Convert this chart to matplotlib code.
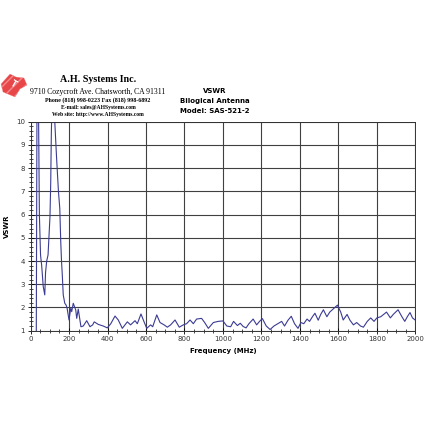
import matplotlib
matplotlib.use("Agg")
import matplotlib.pyplot as plt
from matplotlib.patches import Polygon
from matplotlib.ticker import MultipleLocator

freq_mhz = [30, 35, 40, 42, 46, 52, 58, 66, 74, 78, 84, 91, 96, 101, 105, 108, 114,
            122, 126, 135, 145, 152, 157, 161, 165, 170, 178, 185, 190, 200, 209, 214,
            222, 235, 240, 248, 254, 262, 274, 292, 309, 323, 331, 352, 378, 399, 417,
            439, 456, 477, 503, 520, 543, 555, 574, 590, 604, 624, 635, 656, 673, 694,
            711, 728, 751, 773, 794, 811, 829, 846, 863, 889, 905, 924, 950, 975,
            1000, 1020, 1040, 1055, 1075, 1090, 1105, 1120, 1135, 1157, 1175, 1190,
            1205, 1225, 1245, 1265, 1285, 1305, 1320, 1338, 1355, 1372, 1390, 1405,
            1420, 1437, 1450, 1465, 1478, 1495, 1508, 1522, 1540, 1555, 1575, 1595,
            1612, 1625, 1645, 1660, 1678, 1695, 1715, 1730, 1750, 1768, 1785, 1800,
            1820, 1850, 1870, 1885, 1910, 1930, 1945, 1958, 1972, 1985, 2000]
vswr = [1.0, 15.0, 12.0, 10.0, 6.0, 4.26, 3.8, 2.9, 2.54, 3.5, 4.0, 4.26, 5.1, 5.9,
        7.4, 9.4, 12.0, 12.0, 10.0, 8.5, 7.0, 6.27, 4.84, 4.0, 3.4, 2.54, 2.18, 2.1,
        1.97, 1.46, 1.97, 1.82, 2.18, 1.89, 1.53, 1.93, 1.6, 1.17, 1.2, 1.43, 1.17,
        1.25, 1.38, 1.27, 1.2, 1.12, 1.3, 1.63, 1.46, 1.1, 1.38, 1.25, 1.43, 1.3,
        1.72, 1.38, 1.1, 1.25, 1.17, 1.68, 1.35, 1.25, 1.15, 1.25, 1.46, 1.15, 1.25,
        1.3, 1.46, 1.3, 1.5, 1.53, 1.35, 1.1, 1.35, 1.4,
        1.42, 1.2, 1.17, 1.4, 1.22, 1.32, 1.18, 1.12, 1.3, 1.5, 1.25, 1.4,
        1.52, 1.2, 1.05, 1.2, 1.3, 1.4, 1.2, 1.45, 1.62, 1.3, 1.1, 1.35,
        1.3, 1.5, 1.4, 1.6, 1.75, 1.45, 1.7, 1.9, 1.6, 1.8, 1.95, 2.1,
        1.8, 1.46, 1.7, 1.45, 1.25, 1.35, 1.2, 1.15, 1.4, 1.55, 1.4, 1.55,
        1.6, 1.8, 1.55, 1.7, 1.9, 1.6, 1.4, 1.6, 1.78, 1.55, 1.45]

x_ticks = [0, 200, 400, 600, 800, 1000, 1200, 1400, 1600, 1800, 2000]
y_ticks = [1, 2, 3, 4, 5, 6, 7, 8, 9, 10]

W = H = 430.0
fig = plt.figure(figsize=(4.3, 4.3), dpi=100)
fig.patch.set_facecolor("white")
ax = fig.add_axes([0.071, 0.231, 0.895, 0.486])

ax.plot(freq_mhz, vswr, color="#3b3b94", lw=0.8)
ax.set_xlim(0, 2000)
ax.set_ylim(1, 10)
ax.set_xticks(x_ticks)
ax.set_yticks(y_ticks)
ax.xaxis.set_minor_locator(MultipleLocator(50))
ax.yaxis.set_minor_locator(MultipleLocator(0.2))
ax.grid(True, which="major", color="#404040", lw=0.8)
ax.set_axisbelow(True)
ax.tick_params(which="major", direction="inout", length=4, width=0.6,
               labelsize=5, colors="black", labelcolor="#333333", pad=2)
ax.tick_params(which="minor", direction="inout", length=2.5, width=0.5)
for s in ax.spines.values():
    s.set_color("#333333")
    s.set_linewidth(0.7)

ax.set_xlabel("Frequency (MHz)", fontsize=5, fontweight="bold")
ax.xaxis.set_label_coords(0.5, -0.085)
ax.set_ylabel("VSWR", fontsize=5, fontweight="bold")
ax.yaxis.set_label_coords(-0.053, 0.5)

def fy(py):
    return 1 - py / H

# header text
cx = 98 / W
fig.text(cx, fy(80), "A.H. Systems Inc.", family="Liberation Serif",
         fontsize=7.2, fontweight="bold", ha="center", va="center")
fig.text(cx, fy(91.5), "9710 Cozycroft Ave. Chatsworth, CA 91311", family="Liberation Serif",
         fontsize=5.5, ha="center", va="center")
fig.text(cx, fy(100), "Phone (818) 998-0223 Fax (818) 998-6892", family="Liberation Serif",
         fontsize=4.3, fontweight="bold", ha="center", va="center")
fig.text(cx, fy(107.3), "E-mail: sales@AHSystems.com", family="Liberation Serif",
         fontsize=4.1, fontweight="bold", ha="center", va="center")
fig.text(cx, fy(114.3), "Web site: http://www.AHSystems.com", family="Liberation Serif",
         fontsize=4.1, fontweight="bold", ha="center", va="center")

rx = 215 / W
fig.text(rx, fy(90.7), "VSWR", fontsize=5, fontweight="bold", ha="center", va="center")
fig.text(rx, fy(101), "Bilogical Antenna", fontsize=5, fontweight="bold", ha="center", va="center")
fig.text(rx, fy(111), "Model: SAS-521-2", fontsize=5, fontweight="bold", ha="center", va="center")

# logo
logo_px = [(1, 84), (10, 74), (16, 77), (24, 78), (27, 85), (20, 89), (15, 97), (3, 92)]
logo = Polygon([(x / W, fy(y)) for x, y in logo_px], closed=True,
               transform=fig.transFigure, facecolor="#e8474a",
               edgecolor="#f28c8c", hatch="///", lw=0.2)
fig.patches.append(logo)
fig.text(13 / W, fy(84), "T", fontsize=5.5, fontweight="bold", color="white",
         rotation=-30, ha="center", va="center")

fig.savefig("out.png", dpi=100, facecolor="white")
